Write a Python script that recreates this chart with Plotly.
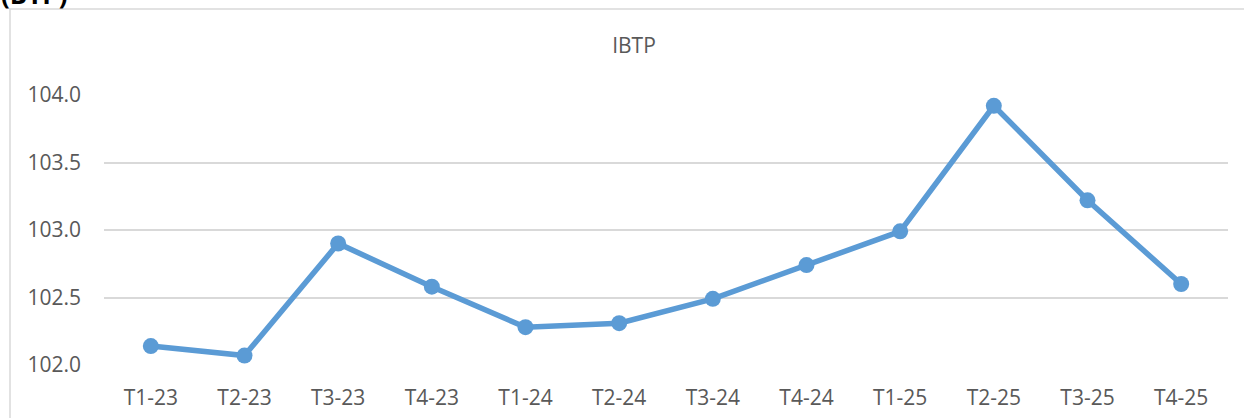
import plotly.graph_objects as go

# IBTP quarterly values
quarters = ["T1-23", "T2-23", "T3-23", "T4-23",
            "T1-24", "T2-24", "T3-24", "T4-24",
            "T1-25", "T2-25", "T3-25", "T4-25"]
ibtp = [102.14, 102.07, 102.90, 102.58,
        102.28, 102.31, 102.49, 102.74,
        102.99, 103.92, 103.22, 102.60]
y_ticks = [102.0, 102.5, 103.0, 103.5, 104.0]

blue = "#5B9BD5"
grey_text = "#595959"
grid = "#D9D9D9"
font = "Open Sans"

fig = go.Figure()
fig.add_trace(go.Scatter(
    x=quarters, y=ibtp,
    mode="lines+markers",
    line=dict(color=blue, width=5.5),
    marker=dict(color=blue, size=16),
    showlegend=False,
))

W, H = 1244, 418
ml, mr, mt, mb = 104, 16, 95, 53
pw, ph = W - ml - mr, H - mt - mb


def px_x(v):
    return (v - ml) / pw


def px_y(v):
    return (H - mb - v) / ph


fig.update_layout(
    width=W, height=H,
    margin=dict(l=ml, r=mr, t=mt, b=mb),
    paper_bgcolor="white", plot_bgcolor="white",
    font=dict(family=font, size=21, color=grey_text),
    title=dict(text="IBTP", x=634 / W, xanchor="center",
               y=1 - 46 / H, yanchor="middle",
               font=dict(family=font, size=21, color=grey_text)),
    xaxis=dict(type="category", range=[-0.5, len(quarters) - 0.5],
               showgrid=False, showline=False, zeroline=False,
               ticks="", ticklabelstandoff=18, automargin=False),
    yaxis=dict(range=[102.0, 104.0], tickvals=y_ticks,
               ticktext=[f"{v:.1f}" for v in y_ticks],
               showgrid=True, gridcolor=grid, gridwidth=1.5,
               showline=False, zeroline=False, ticks="",
               ticklabelstandoff=22, automargin=False),
    shapes=[dict(type="rect", xref="paper", yref="paper",
                 x0=px_x(10), x1=px_x(1300), y0=px_y(9), y1=px_y(460),
                 line=dict(color=grid, width=1.5), fillcolor="rgba(0,0,0,0)",
                 layer="below")],
    annotations=[dict(text="<b>(BTP)</b>", xref="paper", yref="paper",
                      x=px_x(-1), y=px_y(14), xanchor="left", yanchor="bottom",
                      showarrow=False,
                      font=dict(family=font, size=26, color="black"))],
)

# drop the browser's default 8px body margin so the figure sits at the page corner
fig.write_html("out.html", config={"displayModeBar": False},
               post_script="document.body.style.margin='0';")
